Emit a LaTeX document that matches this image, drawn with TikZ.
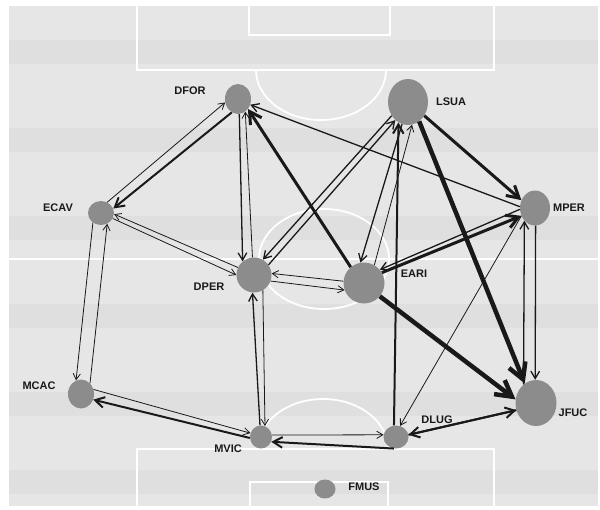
\documentclass[tikz,border=0pt]{standalone}
\usepackage{fontspec}
\setmainfont{Liberation Sans}
\usetikzlibrary{arrows.meta,shapes.geometric}
\definecolor{pitchgray}{RGB}{230,230,230}
\definecolor{bandgray}{RGB}{223,223,223}
\definecolor{playergray}{RGB}{140,140,140}
\definecolor{passblack}{RGB}{25,25,25}

\begin{document}
\begin{tikzpicture}[x=1pt,y=-1pt,
  player/.style={ellipse,fill=playergray,inner sep=0pt},
  lbl/.style={font=\fontsize{11}{13}\selectfont\bfseries,text=passblack},
  pitchline/.style={draw=white,line width=1.8pt},
  pass/.style={draw=passblack,-{Straight Barb[length=4pt 2.6,width=5pt 2.8]}},
  w1/.style={pass,line width=0.8pt},
  w2/.style={pass,line width=1.3pt},
  w3/.style={pass,line width=2pt},
  w4/.style={pass,line width=3pt},
  w5/.style={pass,line width=4.5pt}]
\useasboundingbox (0,0) rectangle (600,509);

% pitch
\fill[pitchgray] (9,6) rectangle (598,506);
\foreach \y in {40,128,216,304,392,470}
  \fill[bandgray] (9,\y) rectangle (598,\y+24);
\draw[pitchline] (137,6) -- (137,70) -- (494,70) -- (494,6);
\draw[pitchline] (249,6) -- (249,35) -- (390,35) -- (390,6);
\draw[pitchline] (256,70) arc[start angle=180,end angle=0,x radius=65,y radius=50];
\draw[pitchline] (9,259) -- (598,259);
\draw[pitchline] (324,259) ellipse[x radius=65,y radius=50];
\draw[pitchline] (137,506) -- (137,449) -- (494,449) -- (494,506);
\draw[pitchline] (250,506) -- (250,482) -- (388,482) -- (388,506);
\draw[pitchline] (258,449) arc[start angle=180,end angle=360,x radius=65,y radius=50];

% players
\node[player,minimum width=26,minimum height=30] (dfor) at (238,99) {};
\node[player,minimum width=40,minimum height=46] (lsua) at (408,102) {};
\node[player,minimum width=26,minimum height=24] (ecav) at (101,213) {};
\node[player,minimum width=30,minimum height=35] (mper) at (535,208) {};
\node[player,minimum width=35,minimum height=35] (dper) at (254,275) {};
\node[player,minimum width=41,minimum height=41] (eari) at (364,283) {};
\node[player,minimum width=26,minimum height=29] (mcac) at (81,394) {};
\node[player,minimum width=22,minimum height=23] (mvic) at (261,437) {};
\node[player,minimum width=25,minimum height=23] (dlug) at (396,437) {};
\node[player,minimum width=41,minimum height=46] (jfuc) at (536,403) {};
\node[player,minimum width=21,minimum height=19] (fmus) at (325,489) {};

\node[lbl] (dforlbl) at (190,91) {DFOR};
\node[lbl] (lsualbl) at (451,102) {LSUA};
\node[lbl] (ecavlbl) at (58,208) {ECAV};
\node[lbl] (mperlbl) at (569,208) {MPER};
\node[lbl] (dperlbl) at (209,287) {DPER};
\node[lbl] (earilbl) at (414,274) {EARI};
\node[lbl] (mcaclbl) at (39,386) {MCAC};
\node[lbl] (mviclbl) at (228,449) {MVIC};
\node[lbl] (dluglbl) at (437,420) {DLUG};
\node[lbl] (jfuclbl) at (573,413) {JFUC};
\node[lbl] (fmuslbl) at (364,487) {FMUS};

% passes
\draw[w1] (ecav.60) -- (dfor.195);
\draw[w3] (dfor.245) -- (ecav.20);
\draw[w2] (dfor.-85) -- (dper.130);
\draw[w1] (dper.95) -- (dfor.-60);
\draw[w4] (eari.130) -- (dfor.-45);
\draw[w2] (mper.175) -- (dfor.-25);

\draw[w2] (lsua.220) -- (dper.60);
\draw[w2] (dper.35) -- (lsua.235);
\draw[w2] (lsua.255) -- (eari.100);
\draw[w1] (eari.60) -- (lsua.280);
\draw[w3] (dlug.100) -- (lsua.245);
\draw[w4] (lsua.-40) -- (mper.150);
\draw[w5] (lsua.-60) -- (jfuc.120);

\draw[w5] (eari.-40) -- (jfuc.170);
\draw[w4] (eari.30) -- (mper.210);
\draw[w2] (mper.185) -- (eari.40);
\draw[w2] (mper.-88) -- (jfuc.92);
\draw[w2] (jfuc.124) -- (mper.-130);
\draw[w1] (mper.-150) -- (dlug.70);
\draw[w3] (jfuc.200) -- (dlug.10);
\draw[w3] (dlug.10) -- (jfuc.200);

\draw[w1] (eari.175) -- (dper.5);
\draw[w1] (dper.-20) -- (eari.-160);
\draw[w1] (dper.155) -- (ecav.-5);
\draw[w1] (ecav.-25) -- (dper.180);

\draw[w1] (ecav.-130) -- (mcac.110);
\draw[w1] (mcac.50) -- (ecav.-60);
\draw[w1] (mcac.20) -- (mvic.160);
\draw[w3] (mvic.185) -- (mcac.-25);
\draw[w2] (mvic.95) -- (dper.-95);
\draw[w1] (dper.-60) -- (mvic.70);
\draw[w1] (mvic.10) -- (dlug.170);
\draw[w3] (dlug.-100) -- (mvic.-25);
\end{tikzpicture}
\end{document}
